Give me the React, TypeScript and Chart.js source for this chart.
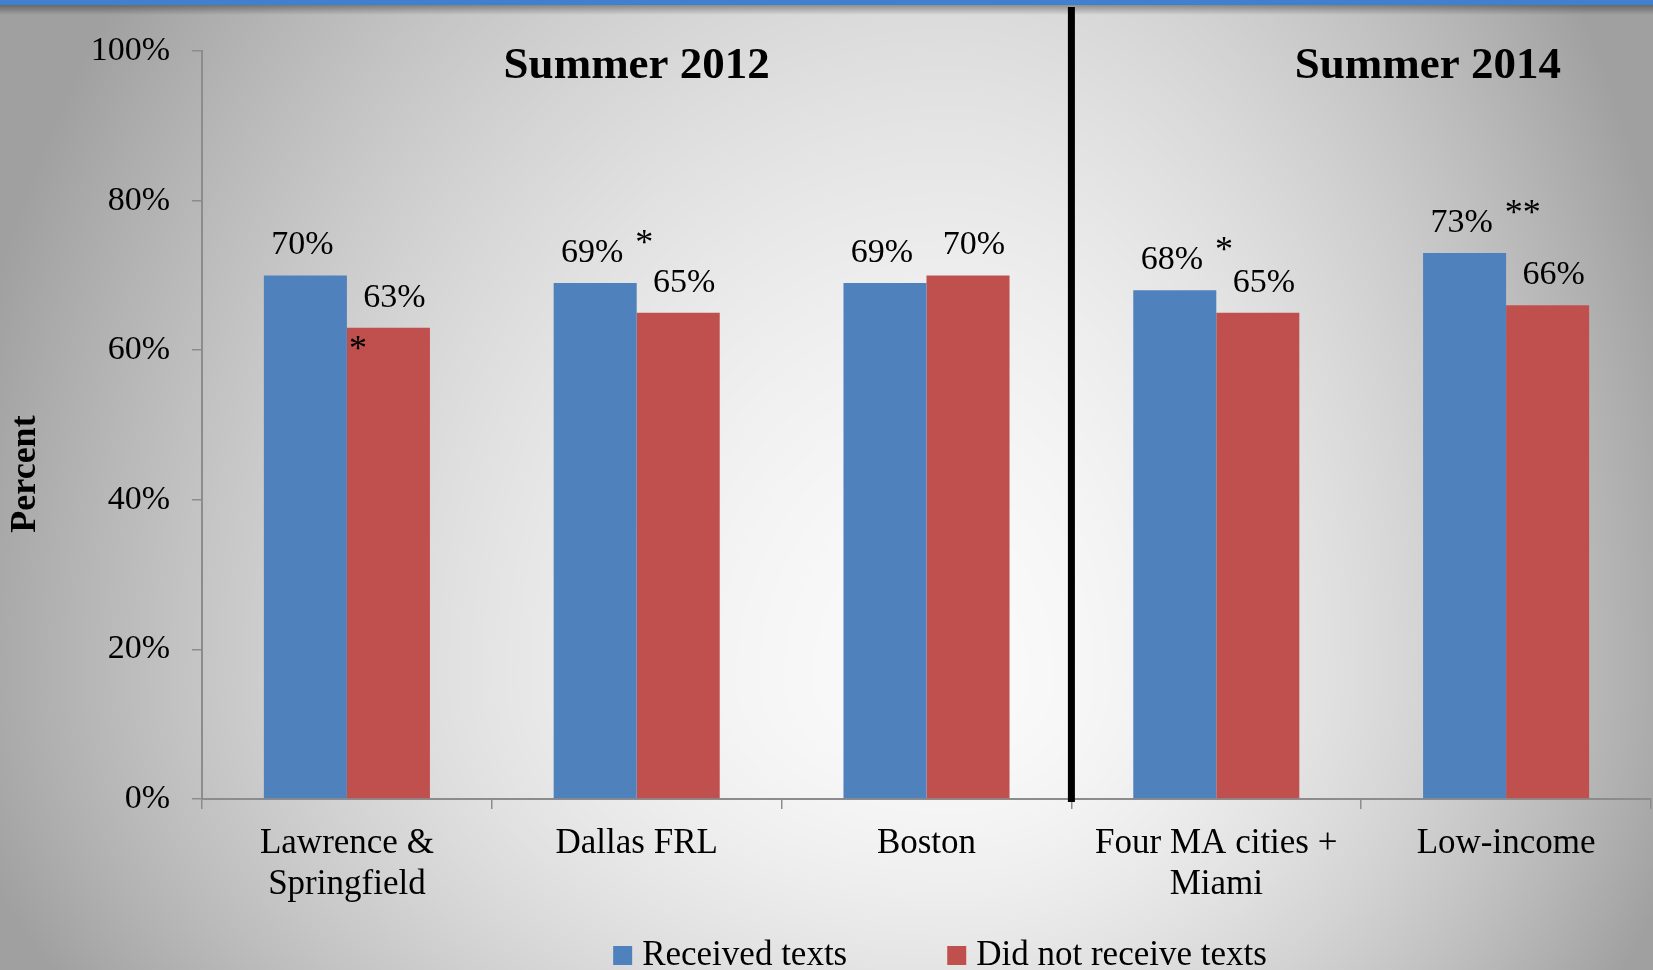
import { useEffect, useRef } from "react";
import { Chart, registerables } from "chart.js";

Chart.register(...registerables);

// ---------- data ----------
const categories: (string | string[])[] = [
  ["Lawrence &", "Springfield"],
  "Dallas FRL",
  "Boston",
  ["Four MA cities +", "Miami"],
  "Low-income",
];
const seriesNames = ["Received texts", "Did not receive texts"];
const received = [70, 69, 69, 68, 73];
const notReceived = [63, 65, 70, 65, 66];
const receivedMarks = ["", "*", "", "*", "**"];
const notReceivedMarks = ["*", "", "", "", ""];
const yMin = 0;
const yMax = 100;
const yStep = 20;
const periods = ["Summer 2012", "Summer 2014"];
const periodCenters = [1, 3.73]; // in category-index units
const dividerAfterIndex = 2;
const axisTitle = "Percent";

// ---------- styles ----------
const SERIF = '"Liberation Serif", "DejaVu Serif", serif';
const BLUE = "#4f81bd";
const RED = "#c0504d";
const AXIS = "#8c8c8c";
const W = 1653;
const H = 970;

function paintBackground(c: HTMLCanvasElement) {
  c.width = W;
  c.height = H;
  const ctx = c.getContext("2d")!;
  const img = ctx.createImageData(W, H);
  const cx = 950;
  const cy = 680;
  for (let y = 0; y < H; y++) {
    const dy = y - cy;
    const ry = dy < 0 ? 1150 : 600;
    const ny = dy / ry;
    for (let x = 0; x < W; x++) {
      const dx = x - cx;
      const rx = dx < 0 ? 960 : 720;
      const nx = dx / rx;
      const t = Math.sqrt(nx * nx + ny * ny);
      const v = Math.max(160, 250 - 82 * Math.pow(t, 1.8));
      const i = (y * W + x) * 4;
      img.data[i] = v;
      img.data[i + 1] = v;
      img.data[i + 2] = v;
      img.data[i + 3] = 255;
    }
  }
  ctx.putImageData(img, 0, 0);
  // top blue band with shadow
  const g = ctx.createLinearGradient(0, 5, 0, 15);
  g.addColorStop(0, "rgba(0,0,0,0.35)");
  g.addColorStop(1, "rgba(0,0,0,0)");
  ctx.fillStyle = g;
  ctx.fillRect(0, 5, W, 10);
  ctx.fillStyle = "#3f80d0";
  ctx.fillRect(0, 0, W, 5);
}

const decorPlugin = {
  id: "decor",
  afterDatasetsDraw(chart: any) {
    const ctx = chart.ctx as CanvasRenderingContext2D;
    const xs = chart.scales.x;
    const area = chart.chartArea;
    ctx.save();
    ctx.fillStyle = "#000";

    // value labels + significance marks
    const marks = [receivedMarks, notReceivedMarks];
    chart.data.datasets.forEach((ds: any, di: number) => {
      const meta = chart.getDatasetMeta(di);
      meta.data.forEach((bar: any, i: number) => {
        const label = ds.data[i] + "%";
        ctx.font = `34px ${SERIF}`;
        ctx.textAlign = "center";
        ctx.textBaseline = "alphabetic";
        const lx = bar.x + (di === 0 ? -3 : 6);
        const ly = bar.y - 21;
        ctx.fillText(label, lx, ly);
        const m = marks[di][i];
        if (m) {
          const w = ctx.measureText(label).width;
          ctx.font = `36px ${SERIF}`;
          ctx.textAlign = "left";
          if (di === 0) {
            ctx.fillText(m, lx + w / 2 + 12, ly - 8);
          } else {
            ctx.fillText(m, bar.x - bar.width / 2 + 2, bar.y + 32);
          }
        }
      });
    });

    // period titles
    ctx.font = `bold 45px ${SERIF}`;
    ctx.textAlign = "center";
    ctx.textBaseline = "alphabetic";
    periods.forEach((p, i) => {
      ctx.fillText(p, xs.getPixelForValue(periodCenters[i]), 78);
    });

    // divider
    const dx = xs.getPixelForValue(dividerAfterIndex + 0.5);
    ctx.fillRect(dx - 3.5, 7, 7, area.bottom + 3 - 7);

    // y axis title
    ctx.save();
    ctx.translate(26, 474);
    ctx.rotate(-Math.PI / 2);
    ctx.font = `bold 36px ${SERIF}`;
    ctx.textAlign = "center";
    ctx.textBaseline = "middle";
    ctx.fillText(axisTitle, 0, 0);
    ctx.restore();

    // legend
    ctx.font = `35px ${SERIF}`;
    const colors = [BLUE, RED];
    const sq = 19;
    const gap = 10;
    const spacing = 100;
    const widths = seriesNames.map((n) => ctx.measureText(n).width);
    const total = widths.reduce((a, w) => a + sq + gap + w, 0) + spacing * (seriesNames.length - 1);
    let x = 940 - total / 2;
    ctx.textAlign = "left";
    ctx.textBaseline = "alphabetic";
    seriesNames.forEach((n, i) => {
      ctx.fillStyle = colors[i];
      ctx.fillRect(x, 946, sq, sq);
      ctx.fillStyle = "#000";
      ctx.fillText(n, x + sq + gap, 965);
      x += sq + gap + widths[i] + spacing;
    });
    ctx.restore();
  },
};

export default function App() {
  const bgRef = useRef<HTMLCanvasElement>(null);
  const ref = useRef<HTMLCanvasElement>(null);

  useEffect(() => {
    if (bgRef.current) paintBackground(bgRef.current);
    const chart = new Chart(ref.current!, {
      type: "bar",
      data: {
        labels: categories,
        datasets: [
          {
            label: seriesNames[0],
            data: received,
            backgroundColor: BLUE,
            categoryPercentage: 0.573,
            barPercentage: 1,
          },
          {
            label: seriesNames[1],
            data: notReceived,
            backgroundColor: RED,
            categoryPercentage: 0.573,
            barPercentage: 1,
          },
        ],
      },
      options: {
        animation: false,
        responsive: false,
        layout: { padding: { top: 51, right: 2, bottom: 0, left: 0 } },
        plugins: {
          legend: { display: false },
          tooltip: { enabled: false },
          title: { display: false },
        },
        scales: {
          x: {
            offset: true,
            grid: {
              display: true,
              offset: true,
              drawOnChartArea: false,
              drawTicks: true,
              tickLength: 10,
              color: AXIS,
              lineWidth: 1.5,
            },
            border: { display: true, color: AXIS, width: 2 },
            ticks: {
              color: "#000",
              font: { family: SERIF, size: 35, lineHeight: 1.18 },
              padding: 14,
              maxRotation: 0,
              autoSkip: false,
            },
            afterFit: (s: any) => {
              s.height = H - 799;
            },
          },
          y: {
            min: yMin,
            max: yMax,
            grid: {
              display: true,
              drawOnChartArea: false,
              drawTicks: true,
              tickLength: 10,
              color: AXIS,
              lineWidth: 1.5,
            },
            border: { display: true, color: AXIS, width: 2 },
            ticks: {
              stepSize: yStep,
              color: "#000",
              font: { family: SERIF, size: 34 },
              padding: 22,
              callback: (v: any) => v + "%",
            },
            afterFit: (s: any) => {
              s.width = 202;
            },
          },
        },
      },
      plugins: [decorPlugin],
    });
    return () => chart.destroy();
  }, []);

  return (
    <div style={{ position: "fixed", left: 0, top: 0, width: W, height: H, overflow: "hidden" }}>
      <canvas ref={bgRef} width={W} height={H} style={{ position: "absolute", left: 0, top: 0 }} />
      <canvas ref={ref} width={W} height={H} style={{ position: "absolute", left: 0, top: 0 }} />
    </div>
  );
}
